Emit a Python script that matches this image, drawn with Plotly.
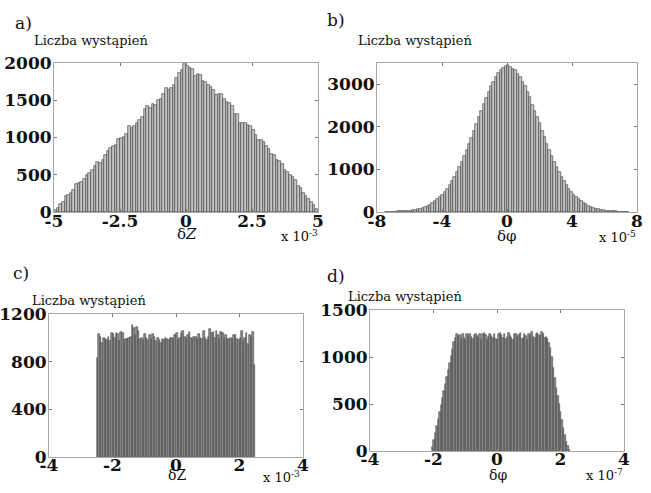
import plotly.graph_objects as go

# ---------------- data ----------------
a_range = [-5.0, 5.0]
a_counts = [30, 60, 110, 130, 220, 230, 250, 300, 380, 390,
            400, 440, 500, 520, 560, 620, 670, 660, 700, 760,
            820, 860, 890, 900, 980, 990, 1010, 1050, 1150, 1130,
            1160, 1200, 1240, 1280, 1380, 1420, 1400, 1450, 1440, 1500,
            1520, 1580, 1660, 1640, 1660, 1710, 1800, 1870, 1900, 1980,
            1960, 1930, 1920, 1820, 1850, 1840, 1760, 1750, 1700, 1680,
            1640, 1570, 1590, 1580, 1520, 1480, 1460, 1420, 1320, 1310,
            1200, 1200, 1200, 1170, 1150, 1100, 1040, 970, 960, 940,
            880, 850, 780, 760, 700, 690, 640, 560, 540, 500,
            470, 430, 350, 320, 260, 220, 180, 130, 90, 40]

b_range = [-7.5, 7.5]
b_counts = [4, 3, 6, 7, 9, 12, 14, 18, 20, 28, 35, 42, 55, 65, 80, 102, 118, 150, 175, 215,
            250, 300, 355, 405, 480, 550, 640, 730, 825, 945, 1060, 1180, 1320, 1460, 1600,
            1750, 1910, 2060, 2230, 2370, 2540, 2680, 2810, 2950, 3060, 3170, 3260, 3330, 3380, 3420,
            3460, 3400, 3370, 3330, 3250, 3180, 3050, 2950, 2810, 2690, 2520, 2380, 2220, 2080,
            1900, 1760, 1600, 1450, 1320, 1180, 1060, 940, 830, 730, 640, 550, 480, 410, 350, 300,
            250, 210, 180, 145, 120, 100, 80, 66, 52, 44, 34, 27, 21, 17, 13, 10, 8, 6, 5, 4]

c_range = [-2.5, 2.5]
c_counts = [830, 1030, 1010, 960, 1000, 990, 980, 1010, 970, 1040,
            1030, 1000, 1040, 1030, 970, 1050, 1040, 980, 990, 990,
            1000, 1010, 1110, 1080, 1020, 1090, 1060, 990, 1000, 980,
            1030, 1000, 980, 1020, 990, 1030, 1010, 970, 1000, 980,
            960, 990, 980, 1000, 990, 980, 1000, 1000, 990, 1020,
            1040, 980, 1000, 1040, 1060, 1010, 1000, 1020, 1050, 1000,
            990, 1010, 1010, 990, 1030, 1000, 990, 1060, 1000, 980,
            1010, 1070, 1040, 1050, 1000, 1060, 1020, 990, 1050, 1040,
            1000, 1020, 990, 990, 1000, 990, 1020, 1020, 990, 980,
            1000, 1060, 970, 1000, 1040, 950, 1020, 1010, 1050, 770]

d_range = [-2.05, 2.30]
d_counts = [38, 113, 187, 262, 336, 411, 486, 560, 635, 710,
            784, 859, 933, 1008, 1082, 1157,
            1200, 1240, 1220, 1230, 1190, 1250, 1200, 1180, 1240, 1220,
            1250, 1210, 1190, 1230, 1250, 1220, 1200, 1240, 1180, 1250,
            1260, 1230, 1180, 1210, 1240, 1220, 1200, 1250, 1190, 1180,
            1240, 1260, 1230, 1200, 1250, 1190, 1210, 1260, 1220, 1200,
            1180, 1240, 1250, 1210, 1230, 1260, 1190, 1200, 1240, 1220,
            1180, 1250, 1230, 1270, 1210, 1200, 1240, 1260, 1230, 1220,
            1270, 1250, 1200, 1210, 1190,
            1150, 1100, 1000, 880, 780, 670, 590, 500, 420, 330,
            250, 170, 100, 50, 15]

panels = [
    dict(rng=a_range, counts=a_counts, xr=[-5, 5], yr=[0, 2000],
         xt=[-5, -2.5, 0, 2.5, 5], xtt=["-5", "-2.5", "0", "2.5", "5"],
         yt=[0, 500, 1000, 1500, 2000], fill="#c4c4c4", edge="#3a3a3a"),
    dict(rng=b_range, counts=b_counts, xr=[-8, 8], yr=[0, 3500],
         xt=[-8, -4, 0, 4, 8], xtt=["-8", "-4", "0", "4", "8"],
         yt=[0, 1000, 2000, 3000], fill="#c4c4c4", edge="#3a3a3a"),
    dict(rng=c_range, counts=c_counts, xr=[-4, 4], yr=[0, 1200],
         xt=[-4, -2, 0, 2, 4], xtt=["-4", "-2", "0", "2", "4"],
         yt=[0, 400, 800, 1200], fill="#8c8c8c", edge="#4a4a4a"),
    dict(rng=d_range, counts=d_counts, xr=[-4, 4], yr=[0, 1500],
         xt=[-4, -2, 0, 2, 4], xtt=["-4", "-2", "0", "2", "4"],
         yt=[0, 500, 1000, 1500], fill="#8c8c8c", edge="#4a4a4a"),
]

W, H = 651, 493
boxes = [(54, 318, 63, 212), (377, 637, 63, 212), (49, 303, 314, 457), (370, 624, 310, 451)]
x_standoff = [-6, -6, -7, -7]

SERIF = "DejaVu Serif, Liberation Serif, serif"
fig = go.Figure()
tickfont = dict(family=SERIF, size=17, color="#111111", weight="bold")

for i, (p, b) in enumerate(zip(panels, boxes)):
    n = len(p["counts"])
    lo, hi = p["rng"]
    w = (hi - lo) / n
    centers = [lo + w * (k + 0.5) for k in range(n)]
    sfx = "" if i == 0 else str(i + 1)
    fig.add_trace(go.Bar(x=centers, y=p["counts"], width=w,
                         marker=dict(color=p["fill"], line=dict(color=p["edge"], width=0.6)),
                         xaxis="x" + sfx, yaxis="y" + sfx, showlegend=False, hoverinfo="skip"))
    l, r, t, bt = b
    ax = dict(domain=[l / W, r / W], range=p["xr"], tickvals=p["xt"], ticktext=p["xtt"],
              showgrid=False, zeroline=False, showline=True, mirror="ticks", linecolor="#a8a8a8",
              linewidth=1, ticks="inside", ticklen=3, tickcolor="#777777", tickfont=tickfont,
              anchor="y" + sfx, fixedrange=True, automargin=False, ticklabelstandoff=x_standoff[i])
    ay = dict(domain=[1 - bt / H, 1 - t / H], range=p["yr"], tickvals=p["yt"],
              showgrid=False, zeroline=False, showline=True, mirror="ticks", linecolor="#a8a8a8",
              linewidth=1, ticks="inside", ticklen=3, tickcolor="#777777", tickfont=tickfont,
              anchor="x" + sfx, fixedrange=True, automargin=False, ticklabelstandoff=-2)
    fig.layout["xaxis" + sfx] = ax
    fig.layout["yaxis" + sfx] = ay

ann = []
def txt(x, y, s, size, xanchor="left"):
    ann.append(dict(x=x / W, y=1 - y / H, xref="paper", yref="paper", text=s, showarrow=False,
                    xanchor=xanchor, yanchor="middle",
                    font=dict(family=SERIF, size=size, color="#111111")))

txt(13, 23, "a)", 17)
txt(325, 20, "b)", 17)
txt(11, 273, "c)", 17)
txt(325, 276, "d)", 17)
txt(32, 40, "Liczba wystąpień", 13)
txt(356, 41, "Liczba wystąpień", 13)
txt(30, 300, "Liczba wystąpień", 13)
txt(346, 296, "Liczba wystąpień", 13)
txt(187, 234, "δ<i>Z</i>", 15, "center")
txt(507, 236, "δφ", 15, "center")
txt(177, 475, "δZ", 14, "center")
txt(498, 475, "δφ", 14, "center")
txt(279, 236, "x 10<sup>-3</sup>", 13)
txt(597, 237, "x 10<sup>-5</sup>", 13)
txt(261, 477, "x 10<sup>-3</sup>", 13)
txt(584, 475, "x 10<sup>-7</sup>", 13)

fig.update_layout(width=W, height=H, margin=dict(l=0, r=0, t=0, b=0, pad=0),
                  paper_bgcolor="white", plot_bgcolor="white", bargap=0,
                  annotations=ann, showlegend=False)
fig.write_html("out.html", config={"displayModeBar": False},
               post_script="document.body.style.margin='0';")
